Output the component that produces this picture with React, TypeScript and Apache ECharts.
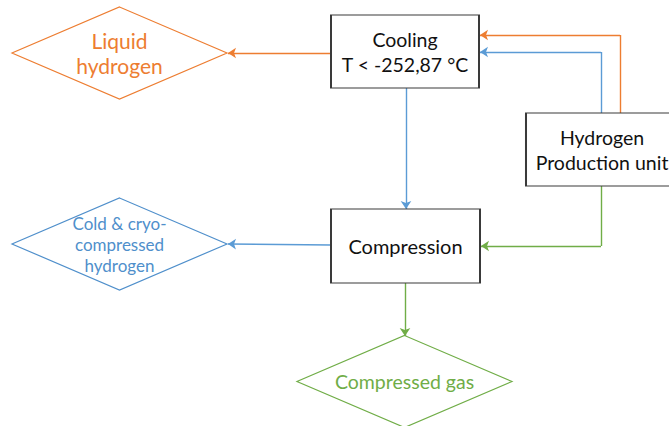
import React, { useEffect, useRef } from "react";
import * as echarts from "echarts";

// Flowchart nodes
const nodeLabels = [
  "Liquid\nhydrogen",
  "Cooling\nT < -252,87 °C",
  "Hydrogen\nProduction unit",
  "Cold & cryo-\ncompressed\nhydrogen",
  "Compression",
  "Compressed gas",
];
const nodeShapes = ["diamond", "rect", "rect", "diamond", "rect", "diamond"];
const nodeX = [119.5, 405, 602, 119.5, 405.5, 404.5];
const nodeY = [53, 51.5, 149.5, 244, 246, 381.5];
const nodeW = [215, 148, 152, 215, 149, 215];
const nodeH = [92, 73, 73, 92, 74, 92];
const nodeColors = ["#ED7D31", "#262626", "#262626", "#4F8FCB", "#262626", "#70AD47"];
const nodeFont = [21, 19.5, 19.5, 17, 20, 19.5];
const nodeLineHeight = [25, 25, 25, 21, 25, 25];

// Connectors (polyline points, arrow at the last point)
const edgeColors = ["#ED7D31", "#ED7D31", "#5B9BD5", "#5B9BD5", "#5B9BD5", "#70AD47", "#70AD47"];
const edgePoints: number[][][] = [
  [[331, 53], [228, 53]],
  [[620, 113], [620, 35], [480, 35]],
  [[601, 113], [601, 52], [480, 52]],
  [[406, 88], [406, 209]],
  [[331, 245], [228, 244]],
  [[601, 186], [601, 246], [481, 246]],
  [[405, 283], [405, 336]],
];

export default function App() {
  const ref = useRef<HTMLDivElement>(null);
  useEffect(() => {
    document.body.style.margin = "0";
    const chart = echarts.init(ref.current!, undefined, { renderer: "svg" });
    const font = "Lato, 'Open Sans', sans-serif";
    const plainSegs: any[] = [];
    const arrowSegs: any[] = [];
    edgePoints.forEach((pts, i) => {
      for (let k = 0; k < pts.length - 1; k++) {
        const seg = {
          coords: [pts[k], pts[k + 1]],
          lineStyle: { color: edgeColors[i], width: 1.4, opacity: 1 },
        };
        if (k === pts.length - 2) arrowSegs.push(seg);
        else plainSegs.push(seg);
      }
    });
    chart.setOption({
      animation: false,
      backgroundColor: "#ffffff",
      grid: { left: 0, top: 0, right: 0, bottom: 0 },
      xAxis: { type: "value", min: 0, max: 669, show: false },
      yAxis: { type: "value", min: 0, max: 426, inverse: true, show: false },
      series: [
        {
          type: "lines",
          coordinateSystem: "cartesian2d",
          z: 1,
          symbol: ["none", "none"],
          silent: true,
          data: plainSegs,
        },
        {
          type: "lines",
          coordinateSystem: "cartesian2d",
          z: 1,
          symbol: ["none", "arrow"],
          symbolSize: [6, 8],
          silent: true,
          data: arrowSegs,
        },
        {
          type: "scatter",
          z: 2,
          silent: true,
          data: nodeLabels.map((name, i) => ({
            name,
            value: [nodeX[i], nodeY[i]],
            symbol: nodeShapes[i],
            symbolSize: [nodeW[i], nodeH[i]],
            itemStyle: {
              color: "#ffffff",
              borderColor: nodeColors[i] === "#262626" ? "#3a3a3a" : nodeColors[i],
              borderWidth: 1.4,
              opacity: 1,
            },
            label: {
              show: true,
              position: "inside",
              formatter: name,
              color: nodeColors[i] === "#262626" ? "#111111" : nodeColors[i],
              fontSize: nodeFont[i],
              lineHeight: nodeLineHeight[i],
              fontFamily: font,
              align: "center",
            },
          })),
        },
      ],
    });
    return () => chart.dispose();
  }, []);
  return <div ref={ref} style={{ width: 669, height: 426 }} />;
}
